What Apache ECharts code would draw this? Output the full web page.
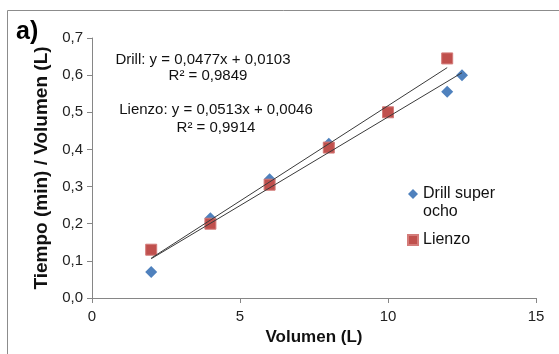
<!DOCTYPE html>
<html>
<head>
<meta charset="utf-8">
<script src="https://cdn.jsdelivr.net/npm/echarts@6/dist/echarts.min.js"></script>
<style>
  html, body { margin: 0; padding: 0; background: #fff; }
  #chart { width: 559px; height: 354px; }
</style>
</head>
<body>
<div id="chart"></div>
<script>
// datos
var drillX = [2, 4, 6, 8, 10, 12, 12.5];
var drillY = [0.07, 0.215, 0.32, 0.415, 0.50, 0.555, 0.60];
var lienzoX = [2, 4, 6, 8, 10, 12];
var lienzoY = [0.13, 0.20, 0.305, 0.405, 0.50, 0.645];

// coeficientes de las lineas de tendencia (pendiente, intercepto, R2)
var drillFit = [0.0477, 0.0103, 0.9849];
var lienzoFit = [0.0513, 0.0046, 0.9914];

var seriesNames = ['Drill super ocho', 'Lienzo'];
var xTicks = [0, 5, 10, 15];
var yTicks = [0, 0.1, 0.2, 0.3, 0.4, 0.5, 0.6, 0.7];

var colors = ['#4F81BD', '#C0504D'];
var font = '"Liberation Sans", Arial, sans-serif';

function pares(xs, ys) {
    return xs.map(function (x, i) { return [x, ys[i]]; });
}

function tendencia(xs, fit) {
    var lo = Math.min.apply(null, xs), hi = Math.max.apply(null, xs);
    return [[lo, fit[0] * lo + fit[1]], [hi, fit[0] * hi + fit[1]]];
}

function coma(v, d) {
    return v.toFixed(d).replace('.', ',');
}

var myChart = echarts.init(document.getElementById('chart'));

var option = {
    animation: false,
    textStyle: { fontFamily: font },
    grid: { left: 92, right: 23, top: 38, bottom: 56 },
    legend: {
        orient: 'vertical',
        left: 407,
        top: 167,
        padding: 0,
        itemGap: 10,
        itemWidth: 10,
        itemHeight: 10,
        data: [
            { name: seriesNames[0], icon: 'diamond', itemStyle: { opacity: 1 } },
            { name: seriesNames[1], icon: 'rect', itemStyle: { opacity: 1 } }
        ],
        formatter: function (name) {
            // primera linea alineada con el icono
            return name === seriesNames[0] ? ' \nDrill super\nocho' : name;
        },
        textStyle: { fontSize: 16, color: '#111', lineHeight: 18, fontFamily: font }
    },
    xAxis: {
        type: 'value',
        min: xTicks[0],
        max: xTicks[xTicks.length - 1],
        interval: 5,
        name: 'Volumen (L)',
        nameLocation: 'middle',
        nameGap: 28,
        nameTextStyle: { fontSize: 17, fontWeight: 'bold', color: '#111', fontFamily: font },
        axisLine: { lineStyle: { color: '#868686', width: 1 } },
        axisTick: { show: true, length: 5, lineStyle: { color: '#868686' } },
        axisLabel: { fontSize: 15, color: '#222', margin: 11, fontFamily: font },
        splitLine: { show: false }
    },
    yAxis: {
        type: 'value',
        min: yTicks[0],
        max: yTicks[yTicks.length - 1],
        interval: 0.1,
        name: 'Tiempo (min) / Volumen (L)',
        nameLocation: 'middle',
        nameGap: 41,
        nameTextStyle: { fontSize: 19, fontWeight: 'bold', color: '#111', fontFamily: font },
        axisLine: { show: true, lineStyle: { color: '#868686', width: 1 } },
        axisTick: { show: true, length: 5, lineStyle: { color: '#868686' } },
        axisLabel: {
            fontSize: 15, color: '#222', margin: 9, fontFamily: font,
            formatter: function (v) { return coma(v, 1); }
        },
        splitLine: { show: false }
    },
    series: [
        {
            name: seriesNames[0],
            type: 'scatter',
            symbol: 'diamond',
            symbolSize: 12,
            itemStyle: { color: colors[0], opacity: 1 },
            z: 2,
            data: pares(drillX, drillY)
        },
        {
            name: seriesNames[1],
            type: 'scatter',
            symbol: 'rect',
            symbolSize: 11,
            itemStyle: { color: colors[1], borderColor: '#d47c7a', borderWidth: 1, opacity: 1 },
            z: 3,
            data: pares(lienzoX, lienzoY)
        },
        {
            name: 'tendencia drill',
            type: 'line',
            showSymbol: false,
            silent: true,
            z: 4,
            lineStyle: { color: '#3a3a3a', width: 1 },
            data: tendencia(drillX, drillFit)
        },
        {
            name: 'tendencia lienzo',
            type: 'line',
            showSymbol: false,
            silent: true,
            z: 4,
            lineStyle: { color: '#3a3a3a', width: 1 },
            data: tendencia(lienzoX, lienzoFit)
        }
    ],
    graphic: [
        {
            type: 'rect',
            silent: true,
            shape: { x: 7.5, y: 10.5, width: 600, height: 400 },
            style: { fill: 'none', stroke: '#8c8c8c', lineWidth: 1 }
        },
        {
            type: 'text', left: 16, top: 20,
            style: { text: 'a)', font: 'bold 25px ' + font, fill: '#000' }
        },
        {
            type: 'text', x: 203, y: 60,
            style: {
                text: 'Drill: y = ' + coma(drillFit[0], 4) + 'x + ' + coma(drillFit[1], 4),
                font: '15px ' + font, fill: '#111', align: 'center', verticalAlign: 'middle'
            }
        },
        {
            type: 'text', x: 208, y: 76,
            style: {
                text: 'R² = ' + coma(drillFit[2], 4),
                font: '15px ' + font, fill: '#111', align: 'center', verticalAlign: 'middle'
            }
        },
        {
            type: 'text', x: 216, y: 110,
            style: {
                text: 'Lienzo: y = ' + coma(lienzoFit[0], 4) + 'x + ' + coma(lienzoFit[1], 4),
                font: '15px ' + font, fill: '#111', align: 'center', verticalAlign: 'middle'
            }
        },
        {
            type: 'text', x: 216, y: 128,
            style: {
                text: 'R² = ' + coma(lienzoFit[2], 4),
                font: '15px ' + font, fill: '#111', align: 'center', verticalAlign: 'middle'
            }
        }
    ]
};

myChart.setOption(option);
</script>
</body>
</html>
